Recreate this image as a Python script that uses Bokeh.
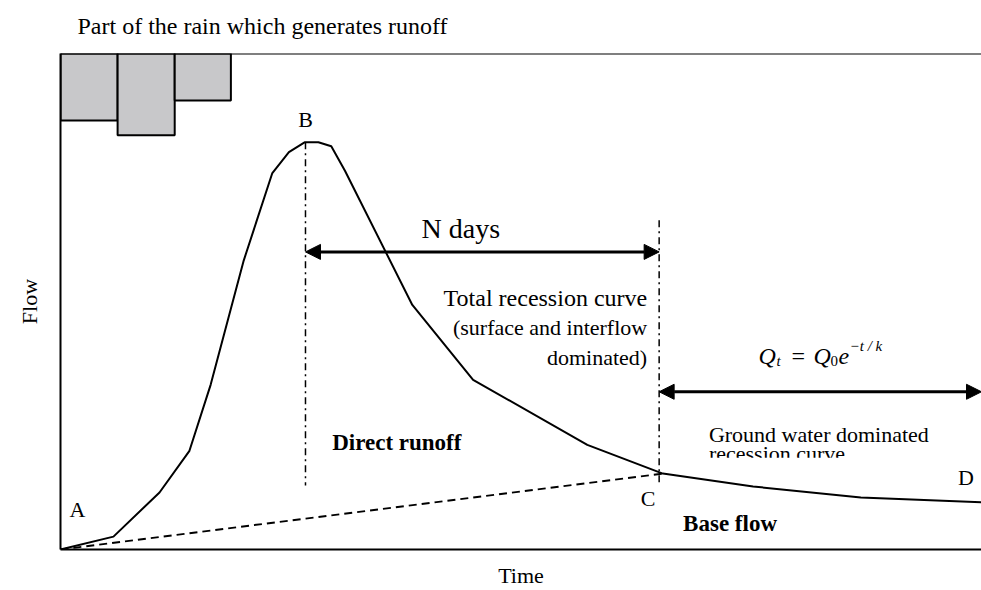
from bokeh.plotting import figure
from bokeh.models import Range1d, Arrow, NormalHead, FixedTicker, Span
from bokeh.core.properties import value
from bokeh.embed import file_html
from bokeh.resources import INLINE

# ---- data (time and flow in % of the drawing window) ----
time = [0, 5.75, 10.75, 14.0, 16.3, 19.9, 23.0, 24.8, 26.5, 28.0, 29.4, 30.9,
        38.2, 44.8, 57.2, 65.4, 75.2, 86.9, 100]
flow = [0, 2.6, 11.5, 19.9, 33.2, 58.3, 75.9, 80.1, 82.1, 82.1, 81.3, 76.3,
        49.3, 34.2, 21.1, 15.3, 12.7, 10.5, 9.5]

baseflow_time = [0, 65.4]
baseflow_flow = [0, 15.3]

rain_start = [0, 6.2, 12.4]
rain_end = [6.2, 12.4, 18.5]
rain_depth = [13.5, 16.5, 9.5]   # hanging down from the top of the window

t_peak = 26.6
t_c = 65.0
peak_line = [82.1, 12.9]
c_line = [66.4, 13.5]
ndays_level = 60.0
gw_level = 31.8

SERIF = "Liberation Serif"
LIFT = -7  # px, raise all in-plot texts

p = figure(width=981, height=590, output_backend="svg", toolbar_location=None,
           x_range=Range1d(0, 100), y_range=Range1d(0, 100),
           min_border_left=60, min_border_right=0, min_border_top=53,
           min_border_bottom=40, background_fill_color="white",
           border_fill_color="white", outline_line_color=None)
p.grid.visible = False

p.title.text = "Part of the rain which generates runoff"
p.title.text_font = SERIF
p.title.text_font_style = "normal"
p.title.text_font_size = "24px"
p.title.text_color = "black"
p.title.align = "left"
p.title.vertical_align = "top"
p.title.offset = 17
p.title.standoff = 25

bottom_axis = p.below[0]
left_axis = p.left[0]
for ax in (bottom_axis, left_axis):
    ax.ticker = FixedTicker(ticks=[])
    ax.major_tick_out = 0
    ax.major_tick_in = 0
    ax.minor_tick_out = 0
    ax.minor_tick_in = 0
    ax.major_label_standoff = 0
    ax.axis_line_width = 2
    ax.axis_line_color = "black"
    ax.axis_label_text_font = SERIF
    ax.axis_label_text_font_style = "normal"
    ax.axis_label_text_font_size = "22px"
    ax.axis_label_text_color = "black"

bottom_axis.axis_label = "Time"
bottom_axis.axis_label_standoff = 13
left_axis.axis_label = "Flow"
left_axis.axis_label_standoff = 19

# top edge of the drawing window
p.add_layout(Span(location=100, dimension="width", line_color="black", line_width=2))

# rain blocks
p.quad(left=rain_start, right=rain_end, top=[100] * 3,
       bottom=[100 - d for d in rain_depth], fill_color="#c8c8ca",
       line_color="black", line_width=2)

# base flow separation
p.line(baseflow_time, baseflow_flow, line_color="black", line_width=2,
       line_dash="8 5")

# hydrograph
p.line(time, flow, line_color="black", line_width=2)

# dash-dot verticals
p.line([t_peak, t_peak], peak_line, line_color="black", line_width=1.5,
       line_dash="7 4 2 4")
p.line([t_c, t_c], c_line, line_color="black", line_width=1.5,
       line_dash="7 4 2 4")

# arrows
p.add_layout(Arrow(x_start=t_peak, y_start=ndays_level, x_end=t_c, y_end=ndays_level,
                   line_width=3, line_color="black",
                   start=NormalHead(size=15, fill_color="black", line_color="black"),
                   end=NormalHead(size=15, fill_color="black", line_color="black")))
p.add_layout(Arrow(x_start=t_c, y_start=gw_level, x_end=100, y_end=gw_level,
                   line_width=3, line_color="black",
                   start=NormalHead(size=15, fill_color="black", line_color="black"),
                   end=NormalHead(size=15, fill_color="black", line_color="black")))


def txt(x, y, s, size="22px", align="left", style="normal", xo=0, yo=0):
    p.text(x=[x], y=[y], text=[s], text_font=value(SERIF), text_font_size=size,
           text_align=align, text_baseline="alphabetic", text_font_style=style,
           text_color="black", x_offset=xo, y_offset=yo + LIFT)


txt(0.98, 6.6, "A")
txt(26.6, 85.3, "B", align="center")
txt(63.8, 8.85, "C", align="center")
txt(98.3, 13.1, "D", align="center")
txt(39.2, 63.4, "N days", size="28px")
txt(63.7, 49.3, "Total recession curve", size="24px", align="right")
txt(63.7, 43.3, "(surface and interflow", align="right")
txt(63.7, 37.2, "dominated)", align="right")
txt(29.5, 20.1, "Direct runoff", size="23px", style="bold")
txt(67.6, 3.8, "Base flow", size="23px", style="bold")
txt(70.4, 21.7, "Ground water dominated")
txt(70.4, 17.9, "recession curve")
# the original text box cuts this line off
p.quad(left=[69.5], right=[94.4], bottom=[16.4], top=[18.5], fill_color="white",
       line_color=None)

# equation Q_t = Q_0 e^{-t/k}
ex, ey = 75.8, 37.6
txt(ex, ey, "Q", size="24px", style="italic")
txt(ex, ey, "t", size="15px", style="italic", xo=18, yo=5)
txt(ex, ey, "=", size="24px", xo=33)
txt(ex, ey, "Q", size="24px", style="italic", xo=55)
txt(ex, ey, "0", size="15px", xo=72, yo=5)
txt(ex, ey, "e", size="24px", style="italic", xo=80)
txt(ex, ey, "\u2212t / k", size="15px", style="italic", xo=91, yo=-10)

open("out.html", "w").write(file_html(p, INLINE))
